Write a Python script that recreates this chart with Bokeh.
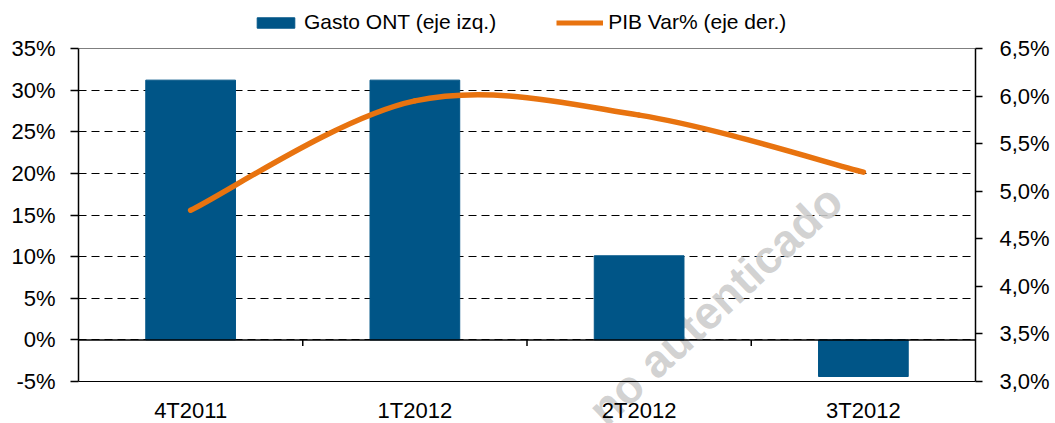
import numpy as np
from bokeh.plotting import figure
from bokeh.layouts import column
from bokeh.models import (Range1d, LinearAxis, FixedTicker, Legend, LegendItem, Label, Span)
from bokeh.core.properties import value
from bokeh.embed import file_html
from bokeh.resources import INLINE

# ---- data ----
categories = ["4T2011", "1T2012", "2T2012", "3T2012"]
gasto_ont = [31.2, 31.2, 10.1, -4.4]          # % (left axis)
pib_var = [4.8, 5.95, 5.8, 5.2]               # % (right axis)
left_ticks = [-5, 0, 5, 10, 15, 20, 25, 30, 35]
left_labels = ["-5%", "0%", "5%", "10%", "15%", "20%", "25%", "30%", "35%"]
right_ticks = [3.0, 3.5, 4.0, 4.5, 5.0, 5.5, 6.0, 6.5]
right_labels = ["3,0%", "3,5%", "4,0%", "4,5%", "5,0%", "5,5%", "6,0%", "6,5%"]
bar_label = "Gasto ONT (eje izq.)"
line_label = "PIB Var% (eje der.)"
watermark = "no autenticado"

FONT = "Liberation Sans"
FS = "22px"
BLUE = "#005587"
ORANGE = "#E8730F"

n = len(categories)
xc = np.arange(n) + 0.5
bounds = np.arange(1, n)

W = 1055
LEG_H = 35
H = 423 - LEG_H
BL, BR, BT = 78, 80, 13
PLOT_H = 333          # pixel height of the -5%..35% area
FRAME_H = H - BT      # frame runs to the bottom edge (room for category labels)

lmin, lmax = left_ticks[0], left_ticks[-1]
rmin, rmax = right_ticks[0], right_ticks[-1]
ext = (lmax - lmin) * (FRAME_H / PLOT_H - 1)
rext = ext * (rmax - rmin) / (lmax - lmin)

# ---------------- main chart ----------------
p = figure(width=W, height=H, output_backend="svg", toolbar_location=None,
           x_range=Range1d(0, n), y_range=Range1d(lmin - ext, lmax),
           min_border_left=BL, min_border_right=BR, min_border_top=BT, min_border_bottom=0)
p.extra_y_ranges = {"pib": Range1d(rmin - rext, rmax)}
p.outline_line_color = None
p.background_fill_color = "white"
p.border_fill_color = "white"

p.xgrid.visible = False
p.xaxis.visible = False
p.ygrid.ticker = FixedTicker(ticks=left_ticks)
p.ygrid.grid_line_color = "black"
p.ygrid.grid_line_dash = "8 5"
p.ygrid.grid_line_width = 1

yax = p.yaxis[0]
yax.bounds = (lmin, lmax)
yax.ticker = FixedTicker(ticks=left_ticks)
yax.major_label_overrides = {t: l for t, l in zip(left_ticks, left_labels)}
yax.axis_line_color = "black"
yax.axis_line_width = 1.5
yax.major_tick_out = 8
yax.major_tick_in = 0
yax.major_tick_line_color = "black"
yax.major_tick_line_width = 1.5
yax.minor_tick_line_color = None
yax.major_label_standoff = 15
yax.major_label_text_font = FONT
yax.major_label_text_font_size = FS
yax.major_label_text_color = "black"

rax = LinearAxis(y_range_name="pib", ticker=FixedTicker(ticks=right_ticks))
rax.bounds = (rmin, rmax)
rax.major_label_overrides = {t: l for t, l in zip(right_ticks, right_labels)}
rax.axis_line_color = "black"
rax.axis_line_width = 1.5
rax.major_tick_out = 7
rax.major_tick_in = 0
rax.major_tick_line_width = 1.5
rax.minor_tick_line_color = None
rax.major_label_standoff = 17
rax.major_label_text_font = FONT
rax.major_label_text_font_size = FS
rax.major_label_text_color = "black"
p.add_layout(rax, "right")

# watermark (behind the chart marks)
p.add_layout(Label(x=2.84, y=4.2, text=watermark, angle=0.75, text_align="center",
                   text_baseline="middle", text_font=FONT, text_font_style="bold",
                   text_font_size="46px", text_color="#cccccc", text_alpha=0.9,
                   level="underlay"))

# top / bottom border of the plot area, zero line
for loc, lw in ((lmax, 1.2), (lmin, 1.2), (0, 1.5)):
    p.add_layout(Span(location=loc, dimension="width", line_color="black", line_width=lw))

bars = p.vbar(x=xc, top=gasto_ont, bottom=0, width=0.4, fill_color=BLUE, line_color=BLUE)

# category-boundary tick marks on the zero line
p.segment(x0=bounds, x1=bounds, y0=0, y1=-0.75, line_color="black", line_width=1.5)

# category labels under the plot area
p.text(x=xc, y=[lmin] * n, text=categories, text_align="center", text_baseline="top",
       y_offset=16, text_font=value(FONT), text_font_size=FS, text_color="black")

# smoothed line (Excel-style bezier through the data points)
P = np.column_stack([xc, pib_var])
x0, y0, x1, y1, cx0, cy0, cx1, cy1 = ([] for _ in range(8))
for i in range(n - 1):
    pm = P[max(i - 1, 0)]
    pa = P[i]
    pb = P[i + 1]
    pn = P[min(i + 2, n - 1)]
    c0 = pa + (pb - pm) / 6.0
    c1 = pb - (pn - pa) / 6.0
    x0.append(pa[0]); y0.append(pa[1]); x1.append(pb[0]); y1.append(pb[1])
    cx0.append(c0[0]); cy0.append(c0[1]); cx1.append(c1[0]); cy1.append(c1[1])
p.bezier(x0=x0, y0=y0, x1=x1, y1=y1, cx0=cx0, cy0=cy0, cx1=cx1, cy1=cy1,
         y_range_name="pib", line_color=ORANGE, line_width=5.5, line_cap="round")

# ---------------- legend strip ----------------
lf = figure(width=W, height=LEG_H, output_backend="svg", toolbar_location=None,
            x_range=Range1d(0, 1), y_range=Range1d(0, 1),
            min_border_left=0, min_border_right=0, min_border_top=0, min_border_bottom=0)
lf.axis.visible = False
lf.grid.visible = False
lf.outline_line_color = None
lf.background_fill_color = "white"
lf.border_fill_color = "white"
lb = lf.vbar(x=[np.nan], top=[np.nan], width=0.1, fill_color=BLUE, line_color=BLUE)
ll = lf.line(x=[np.nan, np.nan], y=[np.nan, np.nan], line_color=ORANGE, line_width=5)
legend = Legend(items=[LegendItem(label=bar_label, renderers=[lb]),
                       LegendItem(label=line_label, renderers=[ll])],
                orientation="horizontal", location=(174, 1),
                border_line_color=None, background_fill_alpha=0,
                glyph_width=47, glyph_height=13, label_standoff=5, spacing=60,
                padding=0, margin=0, label_text_font=FONT, label_text_font_size="21px",
                label_text_color="black")
lf.add_layout(legend, "center")

open("out.html", "w").write(file_html(column(lf, p, spacing=0), INLINE))
